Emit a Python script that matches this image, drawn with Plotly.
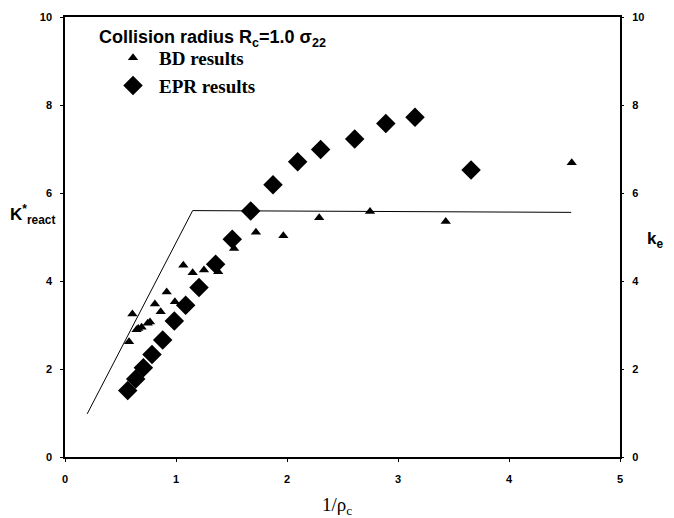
import plotly.graph_objects as go

# EPR results (diamonds)
epr_x = [0.565, 0.637, 0.706, 0.784, 0.88, 0.985, 1.087, 1.207, 1.357, 1.507, 1.673, 1.874,
         2.096, 2.303, 2.61, 2.89, 3.153, 3.658]
epr_y = [1.51, 1.77, 2.03, 2.33, 2.66, 3.09, 3.45, 3.85, 4.38, 4.95, 5.59, 6.19,
         6.71, 6.99, 7.23, 7.58, 7.72, 6.52]

# BD results (triangles)
bd_x = [0.577, 0.607, 0.645, 0.66, 0.69, 0.745, 0.766, 0.81, 0.862, 0.916, 0.99, 1.066,
        1.15, 1.252, 1.38, 1.523, 1.72, 1.967, 2.29, 2.748, 3.43, 4.565]
bd_y = [2.62, 3.25, 2.89, 2.92, 2.95, 3.04, 3.07, 3.48, 3.30, 3.75, 3.53, 4.36,
        4.19, 4.25, 4.21, 4.74, 5.11, 5.03, 5.44, 5.58, 5.35, 6.69]

# Theory line
line_x = [0.2, 1.15, 4.56]
line_y = [0.98, 5.6, 5.56]

x_ticks = [0, 1, 2, 3, 4, 5]
y_ticks = [0, 2, 4, 6, 8, 10]

# page has an 8px body margin; figure sized to fill the rest of the window
OFF = 8
W, H = 674 - OFF, 518 - OFF
PL, PR, PT, PB = 65, 620, 17, 457          # plot area in page pixels
L, T = PL - OFF, PT - OFF
R = W - L - (PR - PL)
B = H - T - (PB - PT)

def px(x):
    return (x - PL) / (PR - PL)

def py(y):
    return (PB - y) / (PB - PT)

fig = go.Figure()
fig.add_trace(go.Scatter(x=line_x, y=line_y, mode="lines",
                         line=dict(color="black", width=1), showlegend=False, hoverinfo="skip"))
fig.add_trace(go.Scatter(x=bd_x, y=bd_y, mode="markers", name="BD results",
                         marker=dict(symbol="triangle-up", size=9, color="black")))
fig.add_trace(go.Scatter(x=epr_x, y=epr_y, mode="markers", name="EPR results",
                         marker=dict(symbol="diamond", size=15, color="black")))
fig.add_trace(go.Scatter(x=[], y=[], yaxis="y2", showlegend=False))

tickfont = dict(family="Liberation Sans, Arial", size=11, color="black", weight="bold")

fig.update_layout(
    width=W, height=H,
    paper_bgcolor="white", plot_bgcolor="white",
    margin=dict(l=L, r=R, t=T, b=B, autoexpand=False),
    xaxis=dict(range=[0, 5], tickvals=x_ticks, showgrid=False, zeroline=False,
               showline=True, linecolor="black", linewidth=1.5, mirror=True,
               ticks="outside", ticklen=3, tickcolor="black",
               tickfont=tickfont, ticklabelstandoff=8),
    yaxis=dict(range=[0, 10], tickvals=y_ticks, showgrid=False, zeroline=False,
               showline=True, linecolor="black", linewidth=1.5, mirror=True,
               ticks="outside", ticklen=3, tickcolor="black",
               tickfont=tickfont, ticklabelstandoff=6),
    yaxis2=dict(range=[0, 10], tickvals=y_ticks, overlaying="y", side="right",
                showgrid=False, zeroline=False, showline=False,
                ticks="outside", ticklen=3, tickcolor="black",
                tickfont=tickfont, ticklabelstandoff=6),
    showlegend=True,
    legend=dict(x=px(107), y=py(39), xanchor="left", yanchor="top",
                bgcolor="rgba(0,0,0,0)", itemwidth=42, tracegroupgap=0,
                font=dict(family="Liberation Serif, Times New Roman", size=19,
                          color="black", weight="bold")),
    font=dict(family="Liberation Sans, Arial", color="black"),
)

fig.add_annotation(text="Collision radius R<sub>c</sub>=1.0 σ<sub>22</sub>",
                   xref="paper", yref="paper", x=px(97), y=py(38),
                   xanchor="left", yanchor="middle", showarrow=False,
                   font=dict(family="Liberation Sans, Arial", size=18, color="black", weight="bold"))
fig.add_annotation(text="K<sup>*</sup><sub>react</sub>",
                   xref="paper", yref="paper", x=px(8), y=py(215),
                   xanchor="left", yanchor="middle", showarrow=False,
                   font=dict(family="Liberation Sans, Arial", size=17, color="black", weight="bold"))
fig.add_annotation(text="k<sub>e</sub>",
                   xref="paper", yref="paper", x=px(645), y=py(240),
                   xanchor="left", yanchor="middle", showarrow=False,
                   font=dict(family="Liberation Sans, Arial", size=17, color="black", weight="bold"))
fig.add_annotation(text="1/ρ<sub>c</sub>",
                   xref="paper", yref="paper", x=px(320), y=py(506),
                   xanchor="left", yanchor="middle", showarrow=False,
                   font=dict(family="Liberation Serif, Times New Roman", size=19, color="black"))

fig.write_html("out.html")
